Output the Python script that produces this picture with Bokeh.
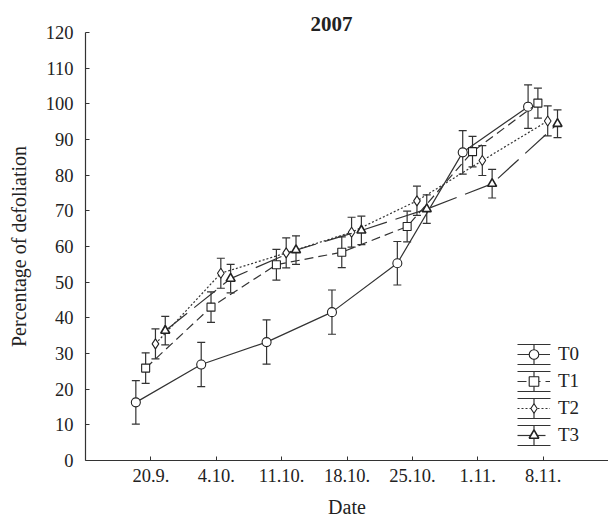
from bokeh.plotting import figure
from bokeh.models import (ColumnDataSource, Whisker, TeeHead, Legend, LegendItem,
                          FixedTicker, Range1d)
from bokeh.embed import file_html
from bokeh.resources import INLINE

# ---- data -----------------------------------------------------------------
dates = ["20.9.", "4.10.", "11.10.", "18.10.", "25.10.", "1.11.", "8.11."]
series = ["T0", "T1", "T2", "T3"]

t0_mean = [16.3, 26.9, 33.2, 41.6, 55.3, 86.4, 99.2]
t0_err = [6.1, 6.2, 6.2, 6.2, 6.1, 6.1, 6.1]
t1_mean = [25.9, 43.0, 54.9, 58.4, 65.6, 86.6, 100.2]
t1_err = [4.3, 4.3, 4.3, 4.3, 4.3, 4.3, 4.2]
t2_mean = [32.7, 52.5, 58.2, 64.0, 72.8, 84.1, 95.2]
t2_err = [4.2, 4.2, 4.2, 4.2, 4.1, 4.2, 4.2]
t3_mean = [36.4, 51.0, 59.0, 64.5, 70.5, 77.6, 94.4]
t3_err = [4.0, 4.0, 4.0, 4.0, 4.0, 4.0, 3.9]

y_ticks = [0, 10, 20, 30, 40, 50, 60, 70, 80, 90, 100, 110, 120]

means = [t0_mean, t1_mean, t2_mean, t3_mean]
errs = [t0_err, t1_err, t2_err, t3_err]

# ---- styles ---------------------------------------------------------------
FONT = "Liberation Serif"
INK = "#333333"
offsets = [-0.23, -0.08, 0.07, 0.22]
dashes = ["solid", "9 5", "2 2", "28 9"]
markers = ["circle", "square", "diamond", "triangle"]
msizes = [9, 8, 10, 9]
mwidths = [1.1, 1.1, 1.1, 1.6]

p = figure(width=608, height=520, output_backend="svg", toolbar_location=None,
           x_range=Range1d(0, 8), y_range=Range1d(0, 120),
           min_border_left=85, min_border_right=0, min_border_top=32,
           min_border_bottom=60)
p.outline_line_color = None
p.grid.visible = False
p.background_fill_color = "white"
p.border_fill_color = "white"

p.title.text = "2007"
p.title.align = "left"
p.title.offset = 225
p.title.text_font = FONT
p.title.text_font_size = "21px"
p.title.text_font_style = "bold"
p.title.text_color = "#222222"
p.title.standoff = 3

for ax in (p.xaxis, p.yaxis):
    ax.axis_line_color = INK
    ax.axis_line_width = 1.2
    ax.major_tick_line_color = INK
    ax.minor_tick_line_color = None
    ax.major_tick_in = 4
    ax.major_tick_out = 0
    ax.major_label_text_font = FONT
    ax.major_label_text_font_size = "18.5px"
    ax.major_label_text_color = "#222222"
    ax.axis_label_text_font = FONT
    ax.axis_label_text_font_size = "20px"
    ax.axis_label_text_font_style = "normal"
    ax.axis_label_text_color = "#222222"

p.xaxis.ticker = FixedTicker(ticks=list(range(1, len(dates) + 1)))
p.xaxis.major_label_overrides = {i + 1: d for i, d in enumerate(dates)}
p.xaxis.axis_label = "Date"
p.xaxis.major_label_standoff = 8
p.xaxis.axis_label_standoff = 11

p.yaxis.ticker = FixedTicker(ticks=y_ticks)
p.yaxis.axis_label = "Percentage of defoliation"
p.yaxis.major_label_standoff = 12
p.yaxis.axis_label_standoff = 13

items = []
for name, m, e, off, dash, mk, ms, mw in zip(series, means, errs, offsets,
                                            dashes, markers, msizes, mwidths):
    xs = [i + 1 + off for i in range(len(m))]
    src = ColumnDataSource(dict(x=xs, y=m,
                                lower=[a - b for a, b in zip(m, e)],
                                upper=[a + b for a, b in zip(m, e)]))
    w = Whisker(source=src, base="x", lower="lower", upper="upper",
                dimension="height", line_color=INK, line_width=1.2,
                lower_head=TeeHead(size=8, line_color=INK, line_width=1.2),
                upper_head=TeeHead(size=8, line_color=INK, line_width=1.2))
    p.add_layout(w)
    lr = p.line("x", "y", source=src, line_color=INK, line_width=1.2,
                line_dash=dash)
    sr = p.scatter("x", "y", source=src, marker=mk, size=ms,
                   fill_color="white", line_color="#222222", line_width=mw)
    items.append(LegendItem(label=name, renderers=[lr, sr]))

# legend error-bar symbols (screen units, relative to the frame)
leg_x = 432
leg_y = 13
gw, gh, gsp = 33, 24, 3
n = len(series)
centers = [leg_y + (n - 1 - k) * (gh + gsp) + gh / 2 for k in range(n)]
lsrc = ColumnDataSource(dict(base=[leg_x + gw / 2] * n,
                             lower=[c - 10 for c in centers],
                             upper=[c + 10 for c in centers]))
lw = Whisker(source=lsrc, base="base", lower="lower", upper="upper",
             dimension="height", base_units="screen", lower_units="screen",
             upper_units="screen", line_color=INK, line_width=1.2,
             lower_head=TeeHead(size=gw, line_color=INK, line_width=1.2),
             upper_head=TeeHead(size=gw, line_color=INK, line_width=1.2))
p.add_layout(lw)

legend = Legend(items=items, location=(leg_x, leg_y), glyph_width=gw,
                glyph_height=gh, spacing=gsp, padding=0, margin=0,
                label_standoff=8, label_height=gh,
                border_line_color=None, background_fill_alpha=0,
                label_text_font=FONT, label_text_font_size="19px",
                label_text_color="#222222")
p.add_layout(legend)

open("out.html", "w").write(file_html(p, INLINE))
